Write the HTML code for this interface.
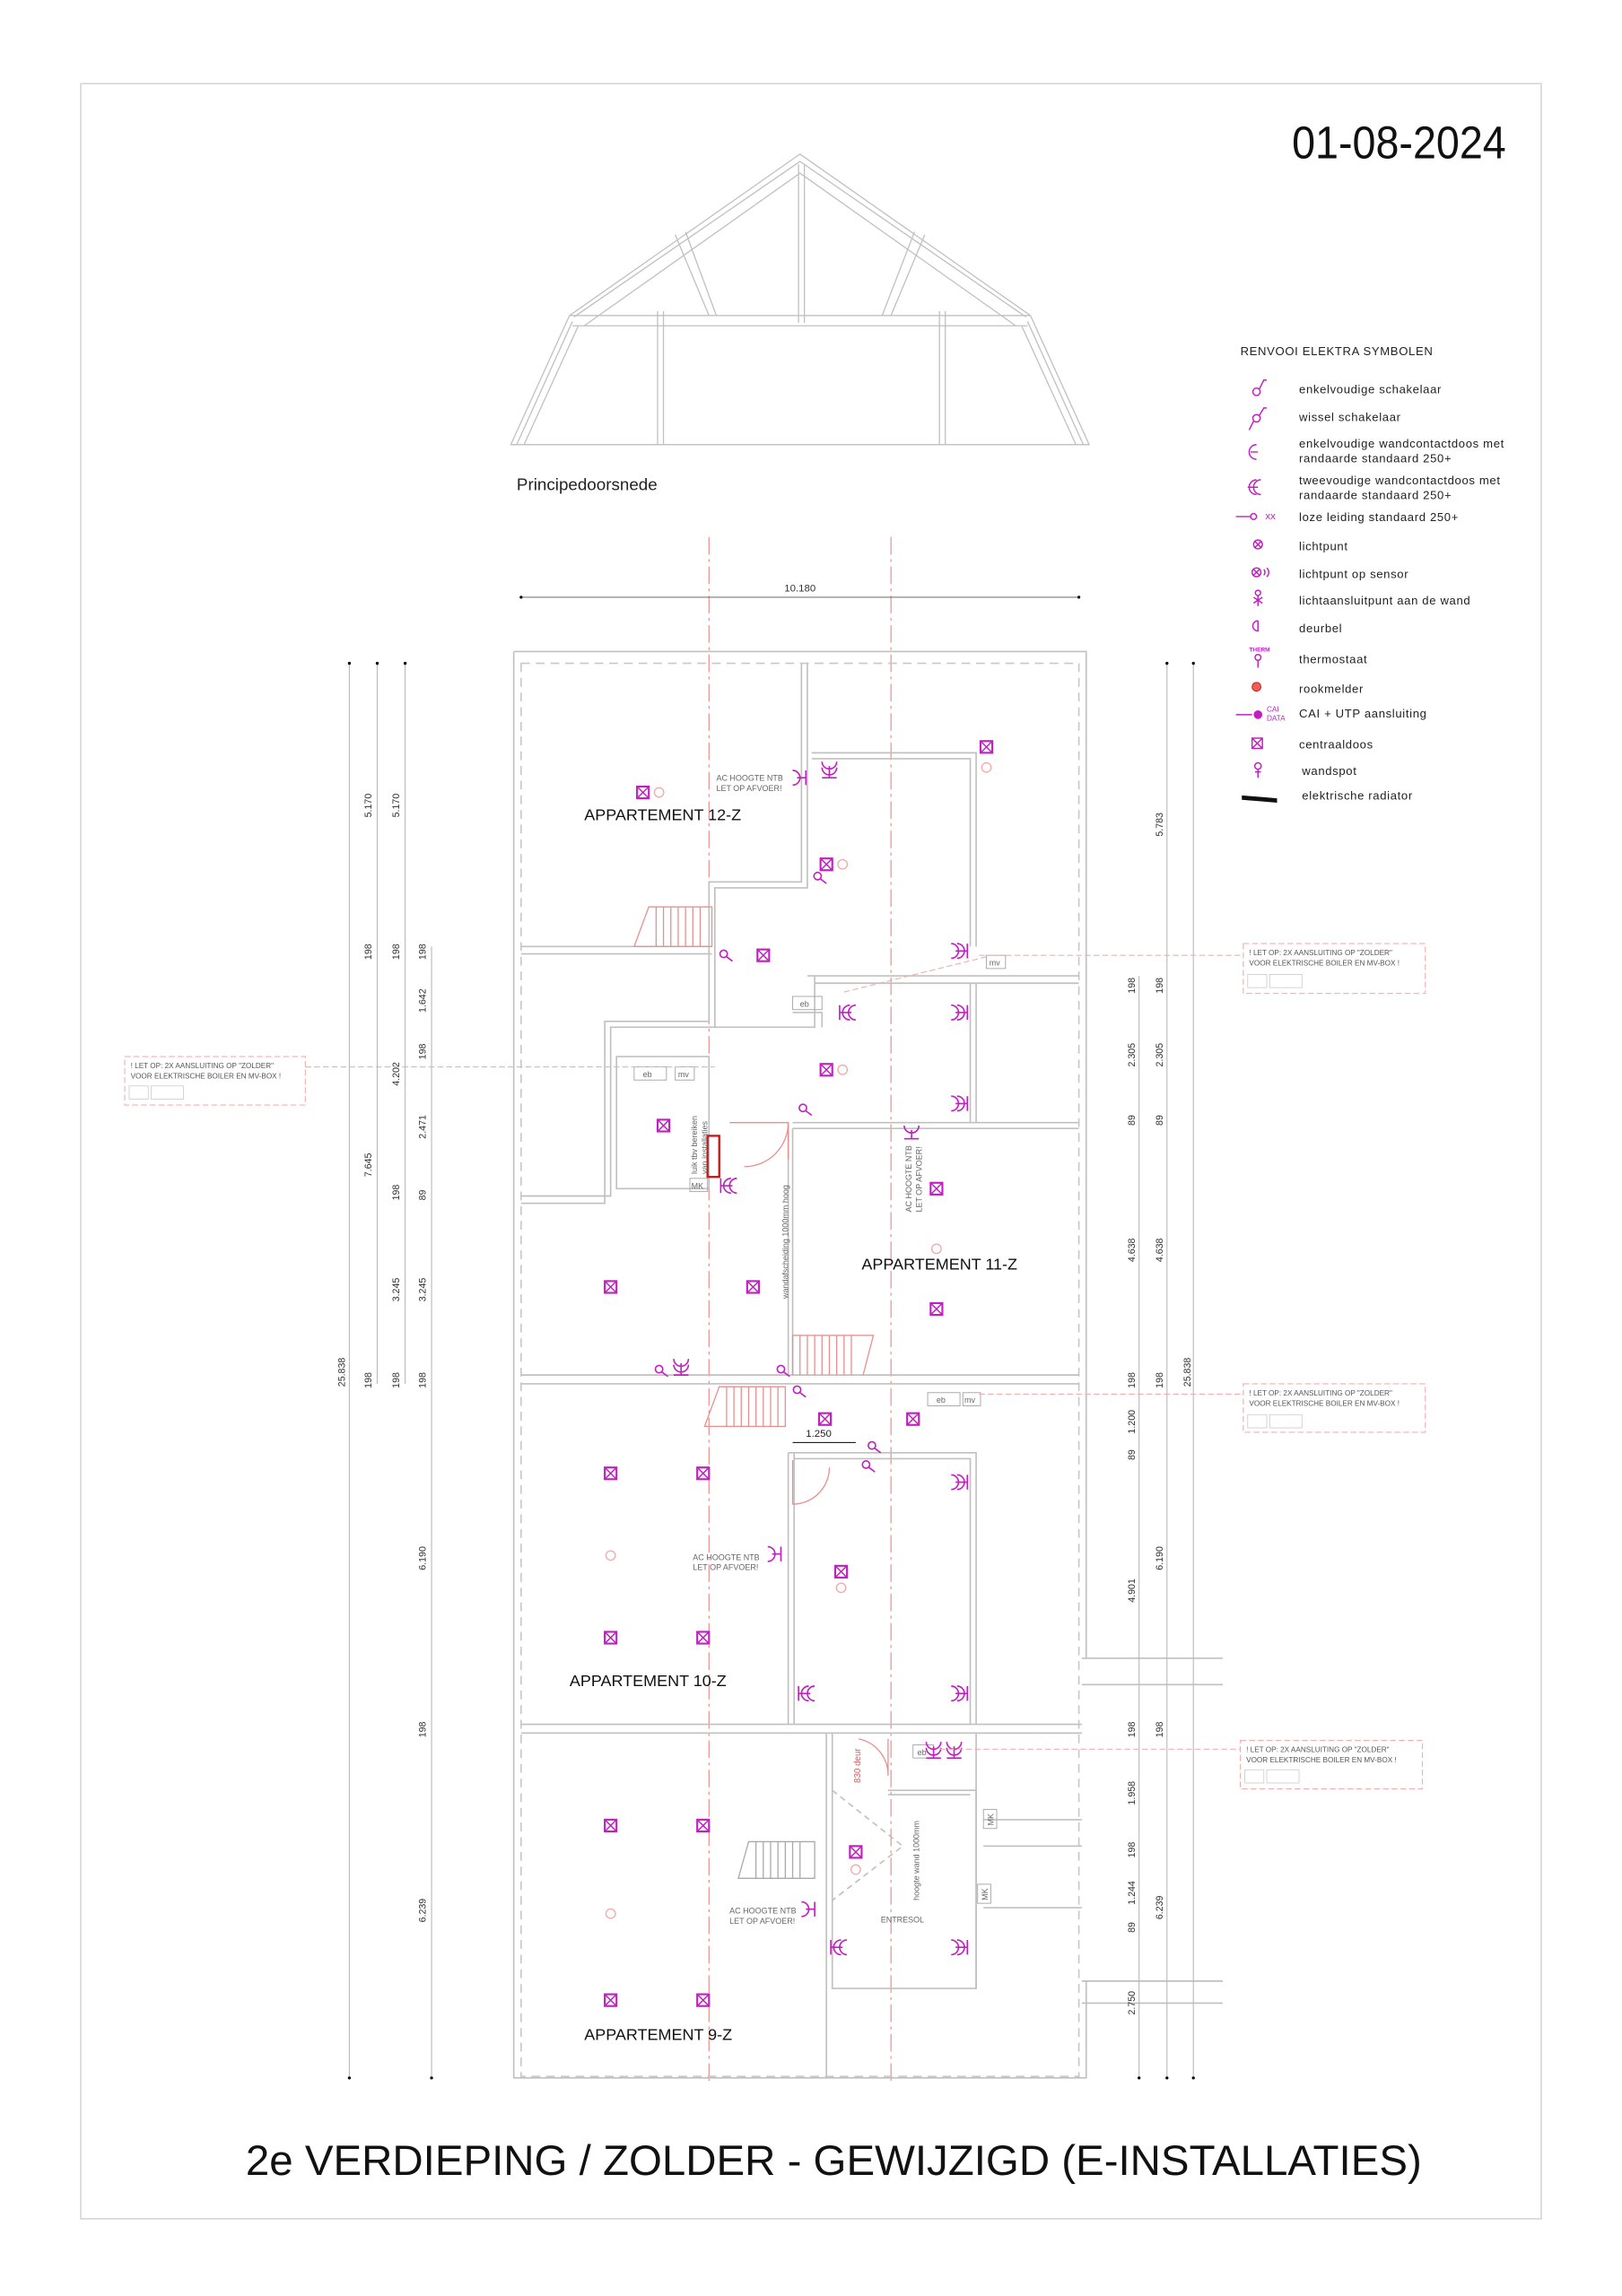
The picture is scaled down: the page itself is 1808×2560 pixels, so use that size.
<!DOCTYPE html>
<html><head><meta charset="utf-8"><style>
html,body{margin:0;padding:0;background:#fff}
svg{display:block}
text{font-family:"Liberation Sans",sans-serif}
</style></head><body>
<svg width="1808" height="2560" viewBox="0 0 1105 1564.6" preserveAspectRatio="none" xmlns="http://www.w3.org/2000/svg">
<defs>
<g id="cd"><rect x="-4" y="-4" width="8" height="8" fill="none" stroke="#c020c0" stroke-width="1.3"/><path d="M-4,-4L4,4M4,-4L-4,4" stroke="#c020c0" stroke-width="0.9"/></g>
<g id="rm"><circle r="3.2" fill="none" stroke="#f0a8a8" stroke-width="0.8"/></g>
<g id="ds" stroke="#c020c0" stroke-width="1" fill="none"><path d="M-5,-5A5,5 0 0 1 -5,5M-1,-5A5,5 0 0 1 -1,5M-2,0H6M6,-5V5"/></g>
<g id="ss" stroke="#c020c0" stroke-width="1" fill="none"><path d="M-4,-5A5,5 0 0 1 -4,5M-1,0H5M5,-5V5"/></g>
<g id="sw" stroke="#c020c0" stroke-width="1" fill="none"><circle r="2.5"/><path d="M2,2L6,5"/></g>
</defs>
<rect x="55" y="57" width="995" height="1455" fill="none" stroke="#d6d6d6" stroke-width="1"/>
<text x="1026" y="108" font-size="31" text-anchor="end" fill="#111" transform="translate(1026 0) scale(0.92 1) translate(-1026 0)">01-08-2024</text>

<g stroke="#c0c0c0" stroke-width="0.8" fill="none">
<path d="M348,303L388,215L545,105L702,215L742,303Z"/>
<path d="M352,303L390,219M357,303L394,222M738,303L700,219M733,303L696,222"/>
<path d="M391,216L545,110L699,216M398,222L545,118L692,222"/>
<path d="M388,215H702M390,222H700"/>
<path d="M448,212V303M452,212V303M640,212V303M644,212V303M544,112V220M548,112V220"/>
<path d="M460,160L483,215M467,158L488,215M630,160L607,215M623,158L601,215"/>
<path d="M348,303H742"/>
</g>
<text x="352" y="334" font-size="11.5" fill="#222">Principedoorsnede</text>

<g stroke="#e88" stroke-width="0.7" stroke-dasharray="12,3,2,3">
<path d="M483,366V1418M607,366V1418"/>
</g>
<g stroke="#555" stroke-width="0.6"><path d="M355,407H735"/></g>
<circle cx="355" cy="407" r="1" fill="#000"/><circle cx="735" cy="407" r="1" fill="#000"/>
<text x="545" y="403" font-size="7" text-anchor="middle" fill="#333">10.180</text>

<g stroke="#c0c0c0" stroke-width="1" fill="none">
<path d="M350,444H740V1130M740,1350V1416H350V444"/>
<path d="M355,452H735V1415H355Z" stroke-dasharray="6,4" stroke="#c8c8c8"/>
<path d="M355,645H485M355,650H485"/>
<path d="M355,937H735M355,943H735"/>
<path d="M355,1175H737M355,1181H737"/>
<path d="M550,452V605H487V700H416V815H355M546,452V601H483V696H412V820H355"/>
<path d="M553,513H665V645M553,517H661V645"/>
<path d="M550,665H735M555,670H735"/>
<path d="M487,700H555V665M540,690H560V700"/>
<path d="M420,720H483V810H420Z"/>
<path d="M540,765H735M540,769H735M540,769V937M537,765V937"/>
<path d="M665,670V765M661,670V765"/>
<path d="M537,990V1175M541,990V1175M537,990H665V1175M541,994H661V1175"/>
<path d="M563,1181V1415M567,1181V1355H665V1220M605,1220H665M605,1223H661"/>
<path d="M670,1181H737M670,1240H737M670,1258H737M670,1300H737M665,1181V1355"/>
<path d="M737,1130H833M737,1148H833M737,1350H833M737,1365H833"/>
<path d="M567,1220L615,1258L567,1295" stroke-dasharray="4,3"/>
</g>
<g stroke="#e89090" stroke-width="0.8" fill="none">
<path d="M432,645L442,618H485V645Z"/><path d="M447,618V645M452,618V645M457,618V645M462,618V645M467,618V645M472,618V645M477,618V645"/>
<path d="M540,937V910H595L588,937"/><path d="M545,910V937M550,910V937M555,910V937M560,910V937M565,910V937M570,910V937M575,910V937M580,910V937"/>
<path d="M480,972L490,945H535V972Z"/><path d="M495,945V972M500,945V972M505,945V972M510,945V972M515,945V972M520,945V972M525,945V972M530,945V972"/>
<path d="M497,765H537V790M537,765A30,30 0 0 1 507,795"/>
<path d="M540,995V1025A25,25 0 0 0 565,1000"/>
<path d="M585,1185A25,25 0 0 1 605,1210V1185"/>
</g>
<g stroke="#aaa" stroke-width="0.8" fill="none">
<path d="M503,1280L510,1255H555V1280Z"/><path d="M515,1255V1280M520,1255V1280M525,1255V1280M530,1255V1280M535,1255V1280M540,1255V1280M545,1255V1280"/>
</g>
<rect x="482" y="774" width="8" height="28" fill="none" stroke="#d01010" stroke-width="1.4"/>
<text transform="translate(586,1215) rotate(-90)" font-size="6" fill="#d06060">830 deur</text>

<g stroke="#aaa" stroke-width="0.6" fill="none" font-size="6">
<rect x="540" y="679" width="20" height="9"/><rect x="432" y="727" width="22" height="9"/><rect x="460" y="727" width="13" height="9"/>
<rect x="632" y="949" width="22" height="9"/><rect x="656" y="949" width="12" height="9"/>
<rect x="672" y="651" width="13" height="9"/><rect x="470" y="803" width="12" height="9"/>
<rect x="622" y="1189" width="14" height="9"/><rect x="670" y="1233" width="9" height="13"/><rect x="666" y="1284" width="9" height="13"/>
</g>
<g font-size="5.5" fill="#666">
<text x="545" y="686">eb</text><text x="438" y="734">eb</text><text x="462" y="734">mv</text><text x="638" y="956">eb</text><text x="657" y="956">mv</text><text x="674" y="658">mv</text><text x="471" y="810">MK</text><text x="625" y="1196">eb</text>
<text transform="translate(677,1244) rotate(-90)">MK</text><text transform="translate(673,1295) rotate(-90)">MK</text>
<text x="488" y="532">AC HOOGTE NTB</text><text x="488" y="539">LET OP AFVOER!</text>
<text x="472" y="1063">AC HOOGTE NTB</text><text x="472" y="1070">LET OP AFVOER!</text>
<text x="497" y="1304">AC HOOGTE NTB</text><text x="497" y="1311">LET OP AFVOER!</text>
<text transform="translate(621,826) rotate(-90)">AC HOOGTE NTB</text><text transform="translate(628,826) rotate(-90)">LET OP AFVOER!</text>
<text transform="translate(475,800) rotate(-90)">luik tbv bereiken</text><text transform="translate(482,800) rotate(-90)">van installaties</text>
<text transform="translate(537,885) rotate(-90)">wandafscheiding 1000mm hoog</text>
<text transform="translate(626,1295) rotate(-90)">hoogte wand 1000mm</text>
<text x="600" y="1310">ENTRESOL</text>
</g>
<path d="M540,983H583" stroke="#000" stroke-width="0.6"/><text x="549" y="979" font-size="7" fill="#222">1.250</text>

<g font-size="11" fill="#111">
<text x="398" y="559">APPARTEMENT 12-Z</text><text x="587" y="865">APPARTEMENT 11-Z</text>
<text x="388" y="1149">APPARTEMENT 10-Z</text><text x="398" y="1390">APPARTEMENT 9-Z</text>
</g>

<g>
<use href="#cd" x="438" y="540"/><use href="#cd" x="563" y="589"/><use href="#cd" x="520" y="651"/><use href="#cd" x="563" y="729"/><use href="#cd" x="452" y="767"/><use href="#cd" x="638" y="810"/><use href="#cd" x="416" y="877"/><use href="#cd" x="513" y="877"/><use href="#cd" x="638" y="892"/><use href="#cd" x="562" y="967"/><use href="#cd" x="622" y="967"/><use href="#cd" x="416" y="1004"/><use href="#cd" x="479" y="1004"/><use href="#cd" x="573" y="1071"/><use href="#cd" x="416" y="1116"/><use href="#cd" x="479" y="1116"/><use href="#cd" x="416" y="1244"/><use href="#cd" x="479" y="1244"/><use href="#cd" x="583" y="1262"/><use href="#cd" x="416" y="1363"/><use href="#cd" x="479" y="1363"/><use href="#cd" x="672" y="509"/>
<use href="#rm" x="449" y="540"/><use href="#rm" x="574" y="589"/><use href="#rm" x="574" y="729"/><use href="#rm" x="638" y="851"/><use href="#rm" x="416" y="1060"/><use href="#rm" x="573" y="1082"/><use href="#rm" x="416" y="1304"/><use href="#rm" x="583" y="1274"/><use href="#rm" x="672" y="523"/>
<use href="#ds" x="653" y="648"/><use href="#ds" x="653" y="690"/><use href="#ds" x="653" y="752"/><use href="#ds" x="653" y="1010"/><use href="#ds" x="653" y="1154"/><use href="#ds" x="653" y="1327"/>
<use href="#ds" x="578" y="690" transform="rotate(180 578 690)"/><use href="#ds" x="497" y="808" transform="rotate(180 497 808)"/><use href="#ds" x="550" y="1154" transform="rotate(180 550 1154)"/><use href="#ds" x="572" y="1327" transform="rotate(180 572 1327)"/>
<use href="#ds" x="565" y="524" transform="rotate(90 565 524)"/><use href="#ds" x="464" y="931" transform="rotate(90 464 931)"/><use href="#ds" x="636" y="1192" transform="rotate(90 636 1192)"/><use href="#ds" x="650" y="1192" transform="rotate(90 650 1192)"/><use href="#ss" x="621" y="771" transform="rotate(90 621 771)"/>
<use href="#ss" x="527" y="1059"/><use href="#ss" x="550" y="1301"/><use href="#ss" x="544" y="530"/>
<use href="#sw" x="557" y="597"/><use href="#sw" x="493" y="650"/><use href="#sw" x="547" y="755"/><use href="#sw" x="449" y="933"/><use href="#sw" x="532" y="933"/><use href="#sw" x="543" y="947"/><use href="#sw" x="594" y="985"/><use href="#sw" x="590" y="998"/>
</g>

<g stroke="#bbb" stroke-width="0.7">
<path d="M238,452V1416M257,452V943M276,452V943M294,645V1416M776,665V1416M795,452V1416M813,452V1416"/>
</g>
<g fill="#000">
<circle cx="238" cy="452" r="1"/><circle cx="257" cy="452" r="1"/><circle cx="276" cy="452" r="1"/><circle cx="238" cy="1416" r="1"/><circle cx="294" cy="1416" r="1"/><circle cx="776" cy="1416" r="1"/><circle cx="795" cy="1416" r="1"/><circle cx="813" cy="1416" r="1"/><circle cx="795" cy="452" r="1"/><circle cx="813" cy="452" r="1"/>
</g>
<g font-size="6.5" fill="#333">
<text transform="translate(253,557) rotate(-90)">5.170</text><text transform="translate(272,557) rotate(-90)">5.170</text>
<text transform="translate(253,654) rotate(-90)">198</text><text transform="translate(272,654) rotate(-90)">198</text><text transform="translate(290,654) rotate(-90)">198</text>
<text transform="translate(290,690) rotate(-90)">1.642</text><text transform="translate(290,722) rotate(-90)">198</text><text transform="translate(272,740) rotate(-90)">4.202</text><text transform="translate(290,776) rotate(-90)">2.471</text>
<text transform="translate(253,802) rotate(-90)">7.645</text><text transform="translate(272,818) rotate(-90)">198</text><text transform="translate(290,818) rotate(-90)">89</text>
<text transform="translate(272,887) rotate(-90)">3.245</text><text transform="translate(290,887) rotate(-90)">3.245</text>
<text transform="translate(235,945) rotate(-90)">25.838</text><text transform="translate(253,946) rotate(-90)">198</text><text transform="translate(272,946) rotate(-90)">198</text><text transform="translate(290,946) rotate(-90)">198</text>
<text transform="translate(290,1070) rotate(-90)">6.190</text><text transform="translate(290,1184) rotate(-90)">198</text><text transform="translate(290,1310) rotate(-90)">6.239</text>
<text transform="translate(792,570) rotate(-90)">5.783</text>
<text transform="translate(773,677) rotate(-90)">198</text><text transform="translate(792,677) rotate(-90)">198</text>
<text transform="translate(773,727) rotate(-90)">2.305</text><text transform="translate(792,727) rotate(-90)">2.305</text>
<text transform="translate(773,767) rotate(-90)">89</text><text transform="translate(792,767) rotate(-90)">89</text>
<text transform="translate(773,860) rotate(-90)">4.638</text><text transform="translate(792,860) rotate(-90)">4.638</text>
<text transform="translate(773,946) rotate(-90)">198</text><text transform="translate(792,946) rotate(-90)">198</text><text transform="translate(811,945) rotate(-90)">25.838</text>
<text transform="translate(773,977) rotate(-90)">1.200</text><text transform="translate(773,995) rotate(-90)">89</text>
<text transform="translate(773,1092) rotate(-90)">4.901</text><text transform="translate(792,1070) rotate(-90)">6.190</text>
<text transform="translate(773,1184) rotate(-90)">198</text><text transform="translate(792,1184) rotate(-90)">198</text>
<text transform="translate(773,1230) rotate(-90)">1.958</text><text transform="translate(773,1266) rotate(-90)">198</text>
<text transform="translate(773,1298) rotate(-90)">1.244</text><text transform="translate(792,1308) rotate(-90)">6.239</text>
<text transform="translate(773,1317) rotate(-90)">89</text><text transform="translate(773,1373) rotate(-90)">2.750</text>
</g>

<g stroke="#f0b0b0" stroke-width="0.7" fill="none" stroke-dasharray="4,2">
<rect x="85" y="720" width="123" height="33"/><rect x="847" y="643" width="124" height="34"/><rect x="847" y="943" width="124" height="33"/><rect x="845" y="1186" width="124" height="33"/>
<path d="M208,727H487M667,651H847M667,950H847M640,1192H845"/><path d="M575,676L672,652"/>
</g>
<g font-size="5" fill="#555">
<text x="89" y="728">! LET OP: 2X AANSLUITING OP "ZOLDER"</text><text x="89" y="735">VOOR ELEKTRISCHE BOILER EN MV-BOX !</text>
<text x="851" y="651">! LET OP: 2X AANSLUITING OP "ZOLDER"</text><text x="851" y="658">VOOR ELEKTRISCHE BOILER EN MV-BOX !</text>
<text x="851" y="951">! LET OP: 2X AANSLUITING OP "ZOLDER"</text><text x="851" y="958">VOOR ELEKTRISCHE BOILER EN MV-BOX !</text>
<text x="849" y="1194">! LET OP: 2X AANSLUITING OP "ZOLDER"</text><text x="849" y="1201">VOOR ELEKTRISCHE BOILER EN MV-BOX !</text>
</g>
<g stroke="#ccc" stroke-width="0.5" fill="none"><rect x="88" y="740" width="13" height="9"/><rect x="103" y="740" width="22" height="9"/><rect x="850" y="664" width="13" height="9"/><rect x="865" y="664" width="22" height="9"/><rect x="850" y="964" width="13" height="9"/><rect x="865" y="964" width="22" height="9"/><rect x="848" y="1206" width="13" height="9"/><rect x="863" y="1206" width="22" height="9"/></g>

<g font-size="8" fill="#222" letter-spacing="0.4">
<text x="845" y="242">RENVOOI  ELEKTRA  SYMBOLEN</text>
<text x="885" y="268">enkelvoudige  schakelaar</text>
<text x="885" y="287">wissel  schakelaar</text>
<text x="885" y="305">enkelvoudige  wandcontactdoos  met</text><text x="885" y="315">randaarde  standaard  250+</text>
<text x="885" y="330">tweevoudige  wandcontactdoos  met</text><text x="885" y="340">randaarde  standaard  250+</text>
<text x="885" y="355">loze  leiding  standaard  250+</text>
<text x="885" y="375">lichtpunt</text><text x="885" y="394">lichtpunt  op  sensor</text>
<text x="885" y="412">lichtaansluitpunt  aan  de  wand</text><text x="885" y="431">deurbel</text>
<text x="885" y="452">thermostaat</text><text x="885" y="472">rookmelder</text>
<text x="885" y="489">CAI  +  UTP  aansluiting</text><text x="885" y="510">centraaldoos</text>
<text x="887" y="528">wandspot</text><text x="887" y="545">elektrische  radiator</text>
</g>
<g stroke="#c020c0" stroke-width="0.9" fill="none">
<circle cx="856" cy="267" r="2.5"/><path d="M858,265L861,259H863"/>
<circle cx="856" cy="285" r="2.5"/><path d="M858,283L861,278H863M854,287L851,293"/>
<path d="M856,303A5,5 0 0 0 856,313M852,308H857"/>
<path d="M856,327A5,5 0 0 0 856,337M859,327A5,5 0 0 0 859,337M850,332H857"/>
<path d="M842,352H852"/><circle cx="854" cy="352" r="2"/>
<circle cx="857" cy="371" r="3"/><path d="M855,369L859,373M859,369L855,373"/>
<circle cx="856" cy="390" r="3"/><path d="M854,388L858,392M858,388L854,392M861,388A3,3 0 0 1 861,392M863,387A4,4 0 0 1 863,393"/>
<circle cx="857" cy="404" r="1.8"/><path d="M857,406V413M854,407L860,411M860,407L854,411"/>
<path d="M857,423A3.5,3.5 0 0 0 857,430V423"/>
<circle cx="857" cy="448" r="2"/><path d="M857,450V455"/>
<path d="M842,487H853"/><circle cx="857" cy="487" r="2.5" fill="#c020c0"/>
<rect x="853" y="503" width="7" height="7"/><path d="M853,503L860,510M860,503L853,510"/>
<circle cx="857" cy="522" r="2.2"/><path d="M857,524V530M855,526H859"/>
</g>
<text x="862" y="354" font-size="7" fill="#c020c0">xx</text>
<text x="851" y="444" font-size="4" fill="#c020c0" font-weight="bold">THERM</text>
<text x="863" y="485" font-size="5" fill="#c020c0">CAI</text><text x="863" y="491" font-size="5" fill="#c020c0">DATA</text>
<circle cx="856" cy="468" r="3" fill="#f06050" stroke="#c02020" stroke-width="0.6"/>
<path d="M846,542L870,544V547L846,545Z" fill="#111"/>

<text x="568" y="1482" font-size="29" text-anchor="middle" fill="#111">2e VERDIEPING / ZOLDER - GEWIJZIGD (E-INSTALLATIES)</text>
</svg>
</body></html>
